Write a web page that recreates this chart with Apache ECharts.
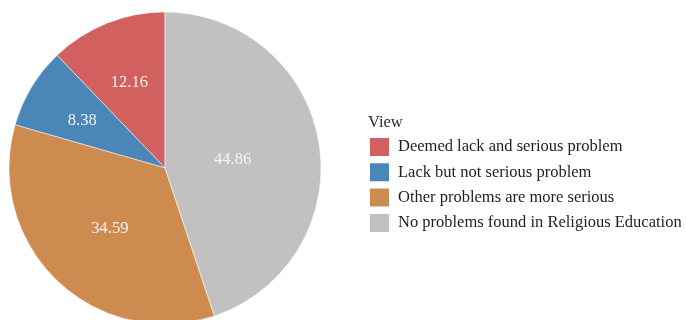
<!DOCTYPE html>
<html>
<head>
<meta charset="utf-8">
<script src="https://cdn.jsdelivr.net/npm/echarts@6/dist/echarts.min.js"></script>
<style>
html,body{margin:0;padding:0;background:#fff;}
#chart{width:686px;height:320px;}
</style>
</head>
<body>
<div id="chart"></div>
<script>
const categories = ['Deemed lack and serious problem', 'Lack but not serious problem', 'Other problems are more serious', 'No problems found in Religious Education'];
const values = [12.16, 8.38, 34.59, 44.86];
const colors = ['#D1605E', '#4A87B8', '#CE8B50', '#C0C1C0'];
const legendTitle = 'View';

const FONT = '"Liberation Serif", serif';
const CX = 165, CY = 168, R = 156;

const total = values.reduce((a, b) => a + b, 0);
const starts = [];
let acc = 0;
values.forEach(v => { starts.push(acc); acc += v; });

const chart = echarts.init(document.getElementById('chart'), null, {renderer: 'canvas'});
chart.setOption({
  animation: false,
  backgroundColor: '#ffffff',
  color: colors,
  title: {
    text: legendTitle,
    left: 368,
    top: 114,
    padding: 0,
    textStyle: {fontFamily: FONT, fontSize: 16.5, fontWeight: 'normal', color: '#2a2a2a'}
  },
  legend: {
    orient: 'vertical',
    left: 368,
    top: 136,
    padding: 0,
    itemWidth: 21,
    itemHeight: 20,
    itemGap: 3.3,
    icon: 'rect',
    data: categories,
    textStyle: {fontFamily: FONT, fontSize: 16.5, color: '#1e1e1e', padding: [0, 0, 0, 3]}
  },
  series: [{
    type: 'pie',
    center: [CX, CY],
    radius: R,
    startAngle: 90,
    clockwise: false,
    silent: true,
    itemStyle: {borderColor: '#ffffff', borderWidth: 0.5},
    label: {
      show: true,
      position: 'inside',
      formatter: p => values[p.dataIndex].toFixed(2),
      fontFamily: FONT,
      fontSize: 16.5,
      color: '#f7f3f0'
    },
    labelLine: {show: false},
    labelLayout: function (params) {
      const i = params.dataIndex;
      const theta = values[i] / total * 2 * Math.PI;
      const mid = Math.PI / 2 + starts[i] / total * 2 * Math.PI + theta / 2;
      const d = 0.94 * 4 * R * Math.sin(theta / 2) / (3 * theta);
      return {
        x: CX + d * Math.cos(mid),
        y: CY - d * Math.sin(mid) + 3,
        align: 'center',
        verticalAlign: 'middle'
      };
    },
    data: categories.map((c, i) => ({name: c, value: values[i]}))
  }]
});
</script>
</body>
</html>
